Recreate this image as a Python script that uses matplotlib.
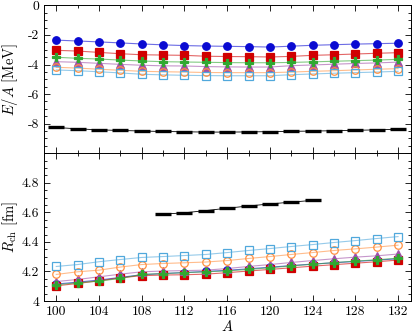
import numpy as np
import matplotlib
matplotlib.use('Agg')
import matplotlib.pyplot as plt
from matplotlib.ticker import MultipleLocator, AutoMinorLocator, FuncFormatter

plt.rcParams['font.family'] = 'serif'
plt.rcParams['font.serif'] = ['cmr10', 'DejaVu Serif']
plt.rcParams['mathtext.fontset'] = 'cm'
plt.rcParams['axes.unicode_minus'] = False
plt.rcParams['font.size'] = 9

# mass numbers
A = np.arange(100, 134, 2)
A_exp_r = np.arange(110, 126, 2)

# E/A [MeV]
e_blue = [-2.35, -2.41, -2.47, -2.54, -2.61, -2.67, -2.72, -2.75, -2.77, -2.79, -2.82, -2.76, -2.70, -2.66, -2.62, -2.59, -2.56]
e_red = [-3.04, -3.09, -3.18, -3.27, -3.34, -3.36, -3.38, -3.44, -3.46, -3.47, -3.49, -3.45, -3.38, -3.34, -3.29, -3.24, -3.20]
e_green = [-3.51, -3.58, -3.63, -3.70, -3.76, -3.81, -3.83, -3.85, -3.87, -3.88, -3.88, -3.86, -3.82, -3.78, -3.74, -3.70, -3.65]
e_purple = [-3.81, -3.85, -3.92, -3.99, -4.05, -4.09, -4.10, -4.14, -4.16, -4.17, -4.17, -4.08, -4.03, -3.98, -3.93, -3.89, -3.84]
e_orange = [-4.19, -4.24, -4.32, -4.39, -4.46, -4.49, -4.51, -4.54, -4.55, -4.55, -4.55, -4.51, -4.46, -4.42, -4.37, -4.32, -4.28]
e_lblue = [-4.37, -4.42, -4.49, -4.57, -4.66, -4.70, -4.73, -4.75, -4.76, -4.76, -4.76, -4.69, -4.64, -4.59, -4.55, -4.51, -4.46]
e_exp = [-8.26, -8.35, -8.42, -8.46, -8.50, -8.53, -8.55, -8.57, -8.57, -8.56, -8.54, -8.52, -8.50, -8.48, -8.45, -8.42, -8.38]

# charge radius [fm]
r_blue = [4.115, 4.128, 4.142, 4.160, 4.178, 4.186, 4.193, 4.200, 4.208, 4.218, 4.229, 4.240, 4.250, 4.259, 4.268, 4.277, 4.286]
r_red = [4.103, 4.119, 4.137, 4.157, 4.172, 4.176, 4.178, 4.182, 4.192, 4.203, 4.214, 4.225, 4.236, 4.246, 4.256, 4.266, 4.277]
r_green = [4.110, 4.124, 4.135, 4.153, 4.180, 4.186, 4.192, 4.198, 4.204, 4.214, 4.225, 4.238, 4.249, 4.260, 4.270, 4.279, 4.290]
r_purple = [4.132, 4.146, 4.164, 4.182, 4.198, 4.203, 4.206, 4.209, 4.220, 4.234, 4.247, 4.261, 4.274, 4.286, 4.297, 4.306, 4.318]
r_orange = [4.180, 4.198, 4.209, 4.230, 4.247, 4.254, 4.259, 4.264, 4.274, 4.288, 4.301, 4.315, 4.328, 4.342, 4.353, 4.365, 4.378]
r_lblue = [4.234, 4.247, 4.266, 4.281, 4.295, 4.301, 4.308, 4.315, 4.328, 4.342, 4.355, 4.369, 4.382, 4.396, 4.409, 4.423, 4.436]
r_exp = [4.588, 4.597, 4.612, 4.628, 4.643, 4.657, 4.669, 4.681]

series = [
    (e_blue, r_blue, '#0a0ad2', 'o', True),
    (e_red, r_red, '#d00000', 's', True),
    (e_purple, r_purple, '#a050a8', '^', True),
    (e_orange, r_orange, '#ff9040', 'o', False),
    (e_lblue, r_lblue, '#50a8dc', 's', False),
    (e_green, r_green, '#30a830', 'P', True),
]

fig = plt.figure(figsize=(4.15, 3.36), dpi=100)
ax1 = fig.add_axes([0.106, 0.544, 0.884, 0.440])
ax2 = fig.add_axes([0.106, 0.104, 0.884, 0.440], sharex=ax1)

def draw(ax, ydata, col, mk, filled):
    ax.plot(A, ydata, '-', color=col, lw=0.8, alpha=0.6, zorder=2)
    ax.plot(A, ydata, linestyle='none', marker=mk, markersize=5.4,
            markerfacecolor=col if filled else 'none', markeredgecolor=col,
            markeredgewidth=0.9, zorder=3)

for e, r, col, mk, filled in series:
    draw(ax1, e, col, mk, filled)
    draw(ax2, r, col, mk, filled)

ax1.plot(A, e_exp, '-', color='black', lw=0.6, marker='_', markersize=11, markeredgewidth=2.4)
ax2.plot(A_exp_r, r_exp, '-', color='black', lw=0.6, marker='_', markersize=11, markeredgewidth=2.4)

ax1.set_xlim(98.85, 133.2)
ax1.set_ylim(-10, 0)
ax2.set_ylim(4, 5)

fmt = FuncFormatter(lambda v, p: ('%g' % v))
ax1.yaxis.set_major_locator(MultipleLocator(2))
ax1.yaxis.set_minor_locator(AutoMinorLocator(4))
ax1.yaxis.set_major_formatter(FuncFormatter(lambda v, p: '' if v < -9 else '%g' % v))
ax2.yaxis.set_major_locator(MultipleLocator(0.2))
ax2.yaxis.set_minor_locator(AutoMinorLocator(4))
ax2.yaxis.set_major_formatter(FuncFormatter(lambda v, p: '' if v > 4.9 else '%g' % round(v, 1)))
ax2.xaxis.set_major_locator(MultipleLocator(4))
ax2.xaxis.set_minor_locator(MultipleLocator(2))
ax2.xaxis.set_major_formatter(fmt)

for ax in (ax1, ax2):
    ax.tick_params(which='both', direction='in', top=True, right=True, labelsize=9.8)
    ax.tick_params(which='major', length=4, width=0.6)
    ax.tick_params(which='minor', length=2.2, width=0.6)
    for s in ax.spines.values():
        s.set_linewidth(0.7)
ax1.tick_params(labelbottom=False)

ax1.set_ylabel(r'$E/A$ [MeV]', fontsize=10.5)
ax2.set_ylabel(r'$R_{\rm ch}$ [fm]', fontsize=10.5)
ax1.yaxis.set_label_coords(-0.066, 0.5)
ax2.yaxis.set_label_coords(-0.066, 0.5)
ax2.set_xlabel(r'$A$', fontsize=10.5, labelpad=1)

fig.savefig('out.png', dpi=100)
